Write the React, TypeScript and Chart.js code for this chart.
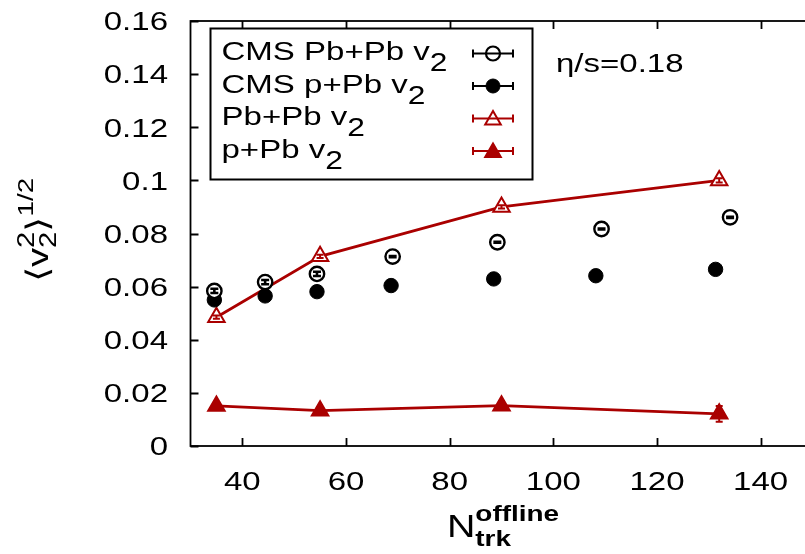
import React, { useEffect, useRef } from "react";
import { Chart, registerables } from "chart.js";

Chart.register(...registerables);

const FONT = '"Liberation Sans", Arial, Helvetica, sans-serif';
const RED = "#aa0000";
const HS = 1.27; // horizontal stretch of the reference lettering

// ---- data ----
const cmsPbPbX = [34.6, 44.4, 54.4, 69.0, 89.2, 109.3, 134.1];
const cmsPbPbY = [0.0584, 0.0617, 0.0648, 0.0713, 0.0767, 0.0817, 0.0861];
const cmsPbPbErr = [0.0008, 0.0008, 0.0008, 0.0002, 0.0002, 0.0002, 0.0002];

const cmsPPbX = [34.6, 44.4, 54.4, 68.7, 88.5, 108.2, 131.3];
const cmsPPbY = [0.055, 0.0565, 0.0581, 0.0604, 0.0629, 0.0641, 0.0665];
const cmsPPbErr = [0.0004, 0.0004, 0.0004, 0.0004, 0.0004, 0.0004, 0.0004];

const hydroPbPbX = [35, 55, 90, 132];
const hydroPbPbY = [0.0485, 0.0714, 0.09, 0.1];
const hydroPbPbErr = [0.0006, 0.0006, 0.0006, 0.0008];

const hydroPPbX = [35, 55, 90, 132];
const hydroPPbY = [0.0151, 0.0133, 0.0152, 0.0121];
const hydroPPbErr = [0.0006, 0.0006, 0.0006, 0.003];

const xTickValues = [40, 60, 80, 100, 120, 140];
const xTickLabels = ["40", "60", "80", "100", "120", "140"];
const yTickValues = [0, 0.02, 0.04, 0.06, 0.08, 0.1, 0.12, 0.14, 0.16];
const yTickLabels = ["0", "0.02", "0.04", "0.06", "0.08", "0.1", "0.12", "0.14", "0.16"];

const legendLabels = ["CMS Pb+Pb v", "CMS p+Pb v", "Pb+Pb v", "p+Pb v"];
const legendSub = "2";
const annotation = "η/s=0.18";

type Seg = { t: string; s: number; dy: number; stack?: boolean; bold?: boolean };

function layoutSegs(ctx: CanvasRenderingContext2D, segs: Seg[]) {
  let x = 0;
  let prevStart = 0;
  let prevEnd = 0;
  const items: (Seg & { x: number })[] = [];
  for (const g of segs) {
    ctx.font = `${g.bold ? "bold " : ""}${g.s}px ${FONT}`;
    const w = ctx.measureText(g.t).width;
    const start = g.stack ? prevStart : x;
    items.push({ ...g, x: start });
    const end = start + w;
    if (g.stack) {
      x = Math.max(prevEnd, end);
      prevEnd = x;
    } else {
      x = end;
      prevEnd = end;
    }
    prevStart = start;
  }
  return { items, width: x };
}

function drawSegs(
  ctx: CanvasRenderingContext2D,
  segs: Seg[],
  x: number,
  y: number,
  align: "left" | "center" | "right"
) {
  const { items, width } = layoutSegs(ctx, segs);
  const w = width * HS;
  const x0 = align === "center" ? x - w / 2 : align === "right" ? x - w : x;
  ctx.save();
  ctx.translate(x0, y);
  ctx.scale(HS, 1);
  ctx.textAlign = "left";
  ctx.textBaseline = "alphabetic";
  for (const it of items) {
    ctx.font = `${it.bold ? "bold " : ""}${it.s}px ${FONT}`;
    ctx.fillText(it.t, it.x, it.dy);
  }
  ctx.restore();
}

function drawCircle(ctx: CanvasRenderingContext2D, x: number, y: number, r: number, filled: boolean) {
  ctx.beginPath();
  ctx.arc(x, y, r, 0, Math.PI * 2);
  if (filled) {
    ctx.fillStyle = "#000";
    ctx.fill();
  }
  ctx.lineWidth = filled ? 1 : 2.2;
  ctx.strokeStyle = "#000";
  ctx.stroke();
}

function drawTriangle(ctx: CanvasRenderingContext2D, x: number, y: number, r: number, filled: boolean) {
  ctx.beginPath();
  let rad = 0;
  for (let i = 0; i < 3; i++) {
    const px = x + Math.sin(rad) * r;
    const py = y - Math.cos(rad) * r;
    if (i === 0) ctx.moveTo(px, py);
    else ctx.lineTo(px, py);
    rad += (2 * Math.PI) / 3;
  }
  ctx.closePath();
  if (filled) {
    ctx.fillStyle = RED;
    ctx.fill();
  }
  ctx.lineWidth = 2;
  ctx.strokeStyle = RED;
  ctx.stroke();
}

const errorBars = [
  { ds: 0, err: cmsPbPbErr, color: "#000", w: 2.6, cap: 4 },
  { ds: 1, err: cmsPPbErr, color: "#000", w: 2, cap: 3.5 },
  { ds: 2, err: hydroPbPbErr, color: RED, w: 2, cap: 3.5 },
  { ds: 3, err: hydroPPbErr, color: RED, w: 2, cap: 3.5 },
];

const decorPlugin = {
  id: "decor",
  afterDatasetsDraw(chart: any) {
    const ctx: CanvasRenderingContext2D = chart.ctx;
    const xs = chart.scales.x;
    const ys = chart.scales.y;
    const a = chart.chartArea;
    ctx.save();

    // error bars
    for (const eb of errorBars) {
      const data = chart.data.datasets[eb.ds].data as { x: number; y: number }[];
      ctx.strokeStyle = eb.color;
      ctx.lineWidth = eb.w;
      data.forEach((p, i) => {
        const px = xs.getPixelForValue(p.x);
        const y1 = ys.getPixelForValue(p.y - eb.err[i]);
        const y2 = ys.getPixelForValue(p.y + eb.err[i]);
        ctx.beginPath();
        ctx.moveTo(px, y1);
        ctx.lineTo(px, y2);
        ctx.moveTo(px - eb.cap, y1);
        ctx.lineTo(px + eb.cap, y1);
        ctx.moveTo(px - eb.cap, y2);
        ctx.lineTo(px + eb.cap, y2);
        ctx.stroke();
      });
    }

    // frame
    ctx.strokeStyle = "#000";
    ctx.lineWidth = 1.8;
    ctx.strokeRect(a.left, a.top, a.right - a.left, a.bottom - a.top);

    // inward ticks (bottom, top, left)
    ctx.lineWidth = 1.8;
    ctx.beginPath();
    for (const t of xs.ticks) {
      const px = Math.round(xs.getPixelForValue(t.value)) + 0.5;
      ctx.moveTo(px, a.bottom);
      ctx.lineTo(px, a.bottom - 8);
      ctx.moveTo(px, a.top);
      ctx.lineTo(px, a.top + 8);
    }
    for (const t of ys.ticks) {
      const py = Math.round(ys.getPixelForValue(t.value)) + 0.5;
      ctx.moveTo(a.left, py);
      ctx.lineTo(a.left + 8, py);
    }
    ctx.stroke();

    // tick labels
    ctx.fillStyle = "#000";
    xs.ticks.forEach((t: any, i: number) => {
      const px = xs.getPixelForValue(t.value);
      drawSegs(ctx, [{ t: xTickLabels[i], s: 26, dy: 0 }], px, 490, "center");
    });
    ys.ticks.forEach((t: any, i: number) => {
      const py = ys.getPixelForValue(t.value);
      drawSegs(ctx, [{ t: yTickLabels[i], s: 26, dy: 0 }], 168, py + 9.3, "right");
    });

    // legend box
    const lx = 210.5, ly = 28.5, lw = 322, lh = 151;
    ctx.lineWidth = 2;
    ctx.strokeStyle = "#000";
    ctx.strokeRect(lx, ly, lw, lh);
    legendLabels.forEach((lab, i) => {
      const base = 60 + 32.5 * i;
      ctx.fillStyle = "#000";
      drawSegs(ctx, [
        { t: lab, s: 26, dy: 0 },
        { t: legendSub, s: 25, dy: 11 },
      ], 221.5, base, "left");
      const cy = base - 6.5;
      const color = i < 2 ? "#000" : RED;
      ctx.strokeStyle = color;
      ctx.lineWidth = 2;
      ctx.beginPath();
      ctx.moveTo(473, cy);
      ctx.lineTo(513, cy);
      ctx.moveTo(473, cy - 4);
      ctx.lineTo(473, cy + 4);
      ctx.moveTo(513, cy - 4);
      ctx.lineTo(513, cy + 4);
      ctx.stroke();
      if (i === 0) drawCircle(ctx, 493, cy, 7, false);
      if (i === 1) drawCircle(ctx, 493, cy, 7, true);
      if (i === 2) drawTriangle(ctx, 493, cy + 1.5, 9, false);
      if (i === 3) drawTriangle(ctx, 493, cy + 1.5, 9, true);
    });

    // annotation
    ctx.fillStyle = "#000";
    drawSegs(ctx, [{ t: annotation, s: 26, dy: 0 }], 556, 72, "left");

    // x title
    drawSegs(ctx, [
      { t: "N", s: 31, dy: 0 },
      { t: "trk", s: 22, dy: 9, bold: true },
      { t: "offline", s: 22, dy: -16, stack: true, bold: true },
    ], 503, 537, "center");

    // y title (rotated)
    ctx.save();
    ctx.translate(48, 230);
    ctx.rotate(-Math.PI / 2);
    drawSegs(ctx, [
      { t: "⟨", s: 31, dy: 0 },
      { t: "v", s: 30, dy: 0 },
      { t: "2", s: 23, dy: 8 },
      { t: "2", s: 23, dy: -14, stack: true },
      { t: "⟩", s: 31, dy: 0 },
      { t: "1/2", s: 22, dy: -15 },
    ], 0, 0, "center");
    ctx.restore();

    ctx.restore();
  },
};

export default function App() {
  const ref = useRef<HTMLCanvasElement | null>(null);

  useEffect(() => {
    if (!ref.current) return;
    const chart = new Chart(ref.current, {
      type: "scatter",
      data: {
        datasets: [
          {
            label: "CMS Pb+Pb v2",
            data: cmsPbPbX.map((x, i) => ({ x, y: cmsPbPbY[i] })),
            showLine: false,
            pointStyle: "circle",
            pointRadius: 7.2,
            pointBorderWidth: 2.4,
            pointBorderColor: "#000",
            pointBackgroundColor: "#fff",
          },
          {
            label: "CMS p+Pb v2",
            data: cmsPPbX.map((x, i) => ({ x, y: cmsPPbY[i] })),
            showLine: false,
            pointStyle: "circle",
            pointRadius: 7.2,
            pointBorderWidth: 1,
            pointBorderColor: "#000",
            pointBackgroundColor: "#000",
          },
          {
            label: "Pb+Pb v2",
            data: hydroPbPbX.map((x, i) => ({ x, y: hydroPbPbY[i] })),
            showLine: true,
            borderColor: RED,
            borderWidth: 2.8,
            pointStyle: "triangle",
            pointRadius: 9.5,
            pointBorderWidth: 2,
            pointBorderColor: RED,
            pointBackgroundColor: "#fff",
          },
          {
            label: "p+Pb v2",
            data: hydroPPbX.map((x, i) => ({ x, y: hydroPPbY[i] })),
            showLine: true,
            borderColor: RED,
            borderWidth: 2.8,
            pointStyle: "triangle",
            pointRadius: 9.5,
            pointBorderWidth: 2,
            pointBorderColor: RED,
            pointBackgroundColor: RED,
          },
        ],
      },
      options: {
        responsive: false,
        animation: false,
        devicePixelRatio: 1,
        layout: { padding: { top: 21, right: 17.5, left: 0, bottom: 0 } },
        plugins: { legend: { display: false }, tooltip: { enabled: false } },
        scales: {
          x: {
            type: "linear",
            min: 30,
            max: 150,
            afterBuildTicks: (s: any) => {
              s.ticks = xTickValues.map((v) => ({ value: v }));
            },
            grid: { display: false, drawTicks: false },
            border: { display: false },
            ticks: { display: false },
            afterFit: (s: any) => {
              s.height = 108;
            },
          },
          y: {
            type: "linear",
            min: 0,
            max: 0.16,
            afterBuildTicks: (s: any) => {
              s.ticks = yTickValues.map((v) => ({ value: v }));
            },
            grid: { display: false, drawTicks: false },
            border: { display: false },
            ticks: { display: false },
            afterFit: (s: any) => {
              s.width = 190.5;
            },
          },
        },
      },
      plugins: [decorPlugin],
    });
    return () => chart.destroy();
  }, []);

  return (
    <div
      style={{
        position: "absolute",
        left: 0,
        top: 0,
        width: 805,
        height: 554,
        overflow: "hidden",
        background: "#fff",
      }}
    >
      <canvas ref={ref} width={830} height={554} style={{ display: "block", width: 830, height: 554 }} />
    </div>
  );
}
